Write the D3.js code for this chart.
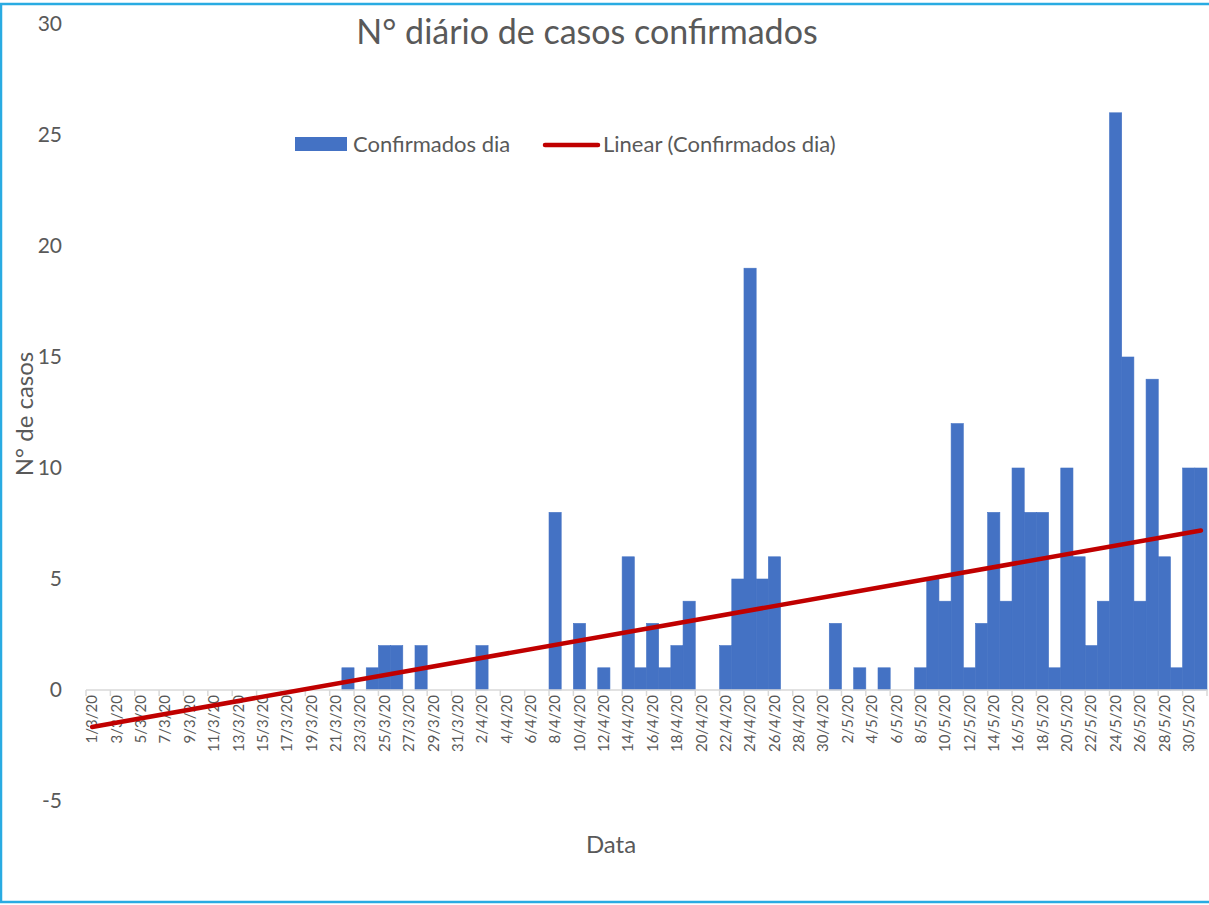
<!DOCTYPE html>
<html>
<head>
<meta charset="utf-8">
<script src="https://cdn.jsdelivr.net/npm/d3@7"></script>
<style>
	body { margin: 0; background: #fff; }
	text { font-family: Lato, "Open Sans", sans-serif; fill: #595959; }
</style>
</head>
<body>
<div id="chart"></div>
<script>
// daily confirmed cases, one value per day
var marchCases = [0,0,0,0,0,0,0,0,0,0, 0,0,0,0,0,0,0,0,0,0, 0,1,0,1,2,2,0,2,0,0, 0];
var aprilCases = [0,2,0,0,0,0,0,8,0,3, 0,1,0,6,1,3,1,2,4,0, 0,2,5,19,5,6,0,0,0,0];
var mayCases = [3,0,1,0,1,0,0,1,5,4, 12,1,3,8,4,10,8,8,1,10, 6,2,4,26,15,4,14,6,1,10, 10];

var yTicks = [-5, 0, 5, 10, 15, 20, 25, 30];
var seriesName = "Confirmados dia";
var trendName = "Linear (Confirmados dia)";

// categories: every day from 1/3/20 to 31/5/20
var days = d3.timeDay.range(new Date(2020, 2, 1), new Date(2020, 5, 1));
var fmt = d3.timeFormat("%-d/%-m/%y");
var values = marchCases.concat(aprilCases, mayCases);
var data = days.map(function(d, i) { return {label: fmt(d), count: values[i]}; });

var WIDTH = 1209,
	HEIGHT = 905;

var xScale = d3.scaleBand()
	.domain(data.map(function(d) { return d.label; }))
	.range([86, 1207])
	.padding(0);

var yScale = d3.scaleLinear().domain([-5, 30]).range([801, 24]);

var svg = d3.select("#chart").append("svg")
	.attr("width", WIDTH)
	.attr("height", HEIGHT);

// outer border
svg.append("rect")
	.attr("x", 1).attr("y", 4)
	.attr("width", 1216).attr("height", 898)
	.attr("fill", "none")
	.attr("stroke", "#29ABE2")
	.attr("stroke-width", 2.5);

// title
svg.append("text")
	.attr("x", 587).attr("y", 44)
	.style("text-anchor", "middle")
	.style("font-size", "34px")
	.text("N° diário de casos confirmados");

// bars
svg.append("g").selectAll("rect")
	.data(data.filter(function(d) { return d.count > 0; }))
	.enter().append("rect")
	.attr("x", function(d) { return xScale(d.label); })
	.attr("y", function(d) { return yScale(d.count); })
	.attr("width", xScale.bandwidth())
	.attr("height", function(d) { return yScale(0) - yScale(d.count); })
	.attr("fill", "#4472C4")
	.attr("stroke", "#4472C4")
	.attr("stroke-width", 0.6);

// x axis, ticks every two days between categories
var x0 = yScale(0);
svg.append("line")
	.attr("x1", 86).attr("x2", 1207)
	.attr("y1", x0).attr("y2", x0)
	.attr("stroke", "#D9D9D9")
	.attr("stroke-width", 1.5);

var tickCats = data.filter(function(d, i) { return i % 2 == 0; });
svg.append("g").selectAll("line")
	.data(tickCats)
	.enter().append("line")
	.attr("x1", function(d) { return xScale(d.label); })
	.attr("x2", function(d) { return xScale(d.label); })
	.attr("y1", x0).attr("y2", x0 + 6)
	.attr("stroke", "#D9D9D9")
	.attr("stroke-width", 1.5);
svg.append("line")
	.attr("x1", 1207).attr("x2", 1207)
	.attr("y1", x0).attr("y2", x0 + 6)
	.attr("stroke", "#D9D9D9")
	.attr("stroke-width", 1.5);

svg.append("g").selectAll("text")
	.data(tickCats)
	.enter().append("text")
	.attr("transform", function(d) {
		return "translate(" + (xScale(d.label) + xScale.bandwidth() / 2) + "," + (x0 + 5) + ") rotate(-90)";
	})
	.attr("dy", "0.35em")
	.style("text-anchor", "end")
	.style("font-size", "15px")
	.text(function(d) { return d.label; });

// y tick labels (no axis line)
svg.append("g").selectAll("text")
	.data(yTicks)
	.enter().append("text")
	.attr("x", 62)
	.attr("y", function(d) { return yScale(d); })
	.attr("dy", "0.35em")
	.style("text-anchor", "end")
	.style("font-size", "21px")
	.text(function(d) { return d; });

// linear trend (least squares over day number 1..n)
var n = values.length;
var xs = d3.range(1, n + 1);
var mx = d3.mean(xs), my = d3.mean(values);
var slope = d3.sum(xs, function(x, i) { return (x - mx) * (values[i] - my); }) /
	d3.sum(xs, function(x) { return (x - mx) * (x - mx); });
var intercept = my - slope * mx;
var trend = [data[0], data[n - 1]].map(function(d, k) {
	var xi = k == 0 ? 1 : n;
	return {label: d.label, count: intercept + slope * xi};
});

var lineGen = d3.line()
	.x(function(d) { return xScale(d.label) + xScale.bandwidth() / 2; })
	.y(function(d) { return yScale(d.count); });

svg.append("path")
	.datum(trend)
	.attr("d", lineGen)
	.attr("fill", "none")
	.attr("stroke", "#C00000")
	.attr("stroke-width", 4.5)
	.attr("stroke-linecap", "round");

// axis titles
svg.append("text")
	.attr("x", 611).attr("y", 853)
	.style("text-anchor", "middle")
	.style("font-size", "24px")
	.text("Data");

svg.append("text")
	.attr("transform", "translate(33,414) rotate(-90)")
	.style("text-anchor", "middle")
	.style("font-size", "24px")
	.text("N° de casos");

// legend
var legend = svg.append("g");
legend.append("rect")
	.attr("x", 295).attr("y", 137)
	.attr("width", 52).attr("height", 14)
	.attr("fill", "#4472C4");
legend.append("text")
	.attr("x", 353).attr("y", 144)
	.attr("dy", "0.35em")
	.style("font-size", "22px")
	.text(seriesName);
legend.append("line")
	.attr("x1", 545).attr("x2", 598)
	.attr("y1", 145).attr("y2", 145)
	.attr("stroke", "#C00000")
	.attr("stroke-width", 4.5)
	.attr("stroke-linecap", "round");
legend.append("text")
	.attr("x", 603).attr("y", 144)
	.attr("dy", "0.35em")
	.style("font-size", "22px")
	.text(trendName);
</script>
</body>
</html>
